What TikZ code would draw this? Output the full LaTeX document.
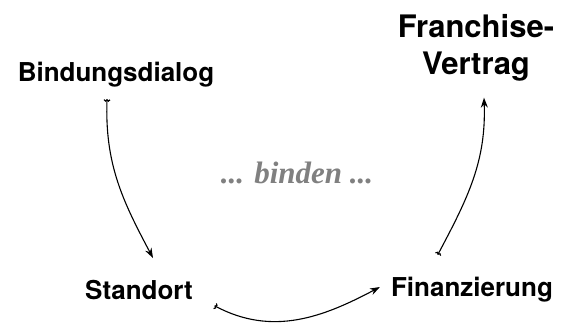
\documentclass[tikz,border=0pt]{standalone}
\usepackage{fontspec}
\setmainfont{TeX Gyre Heros}
\newfontfamily\seriffont{Liberation Serif}
\usetikzlibrary{arrows.meta, positioning}
\definecolor{midgray}{RGB}{128,128,128}

\begin{document}
\begin{tikzpicture}[x=1pt,y=-1pt,>={Stealth[length=10pt,width=7pt]},
      step node/.style={font=\fontsize{26}{31}\selectfont\bfseries, inner sep=0pt},
      link/.style={{Hooks[reversed,width=7pt,length=2pt]}->, line width=1.1pt}]
      \useasboundingbox (0,0) rectangle (562,325);
      \node[step node]   (bind)  at (116,75) {Bindungsdialog};
      \node[step node]   (stand) at (139,290) {Standort};
      \node[step node]   (fin)   at (472,290) {Finanzierung};
      \node[step node, font=\fontsize{31}{37}\selectfont\bfseries, align=center] (vertrag) at (476,48) {Franchise-\\Vertrag};
      \node[font=\fontsize{31}{37}\seriffont\bfseries\itshape, text=midgray] (bind text) at (297,173) {... binden ...};
      \draw[link] ([xshift=-9pt,yshift=-12pt]bind.south) to[out=-92,in=118] ([xshift=14pt,yshift=22pt]stand.north);
      \draw[link] ([xshift=22pt,yshift=-16pt]stand.east) to[out=-28,in=208] ([xshift=-11pt,yshift=3pt]fin.west);
      \draw[link] ([xshift=-34pt,yshift=23pt]fin.north) to[out=62,in=-88] ([xshift=8pt,yshift=-16pt]vertrag.south);
\end{tikzpicture}
\end{document}
